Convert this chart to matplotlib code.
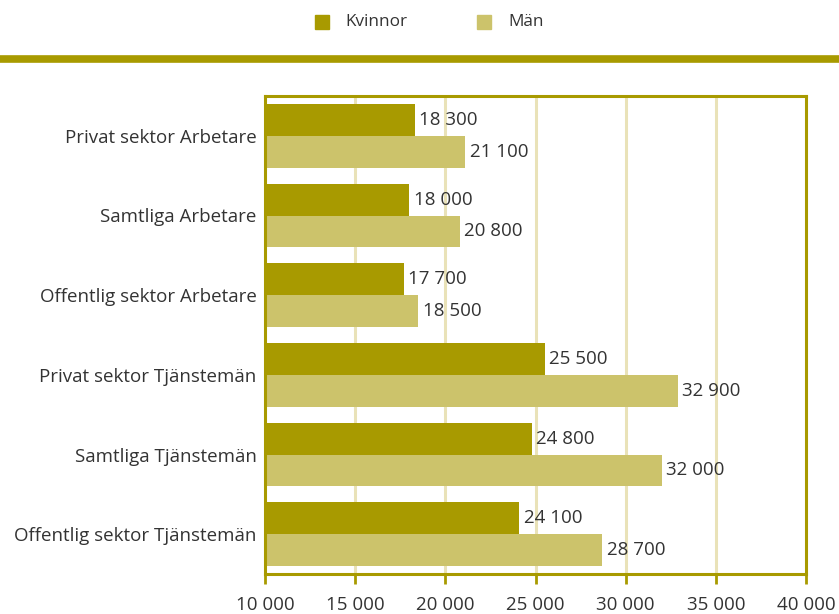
import matplotlib.pyplot as plt
import matplotlib.patches as mpatches
from matplotlib.lines import Line2D
import numpy as np

# Data
categories = ['Privat sektor Arbetare', 'Samtliga Arbetare', 'Offentlig sektor Arbetare',
              'Privat sektor Tjänstemän', 'Samtliga Tjänstemän', 'Offentlig sektor Tjänstemän']
kvinnor = [18300, 18000, 17700, 25500, 24800, 24100]
man = [21100, 20800, 18500, 32900, 32000, 28700]
series_names = ['Kvinnor', 'Män']
xticks = [10000, 15000, 20000, 25000, 30000, 35000, 40000]

dark = '#A89A00'
light = '#CCC36B'
grid_c = '#E9E2B8'
text_c = '#333333'

plt.rcParams['font.family'] = ['Open Sans', 'DejaVu Sans']


def fmt(v):
    return f'{v:,}'.replace(',', ' ')


fig = plt.figure(figsize=(8.39, 6.14), dpi=100)
ax = fig.add_axes([265 / 839, 1 - 574 / 614, (806 - 265) / 839, (574 - 96) / 614])

n = len(categories)
y = np.arange(n)
h = 0.4
ax.barh(y - h / 2, kvinnor, height=h, left=0, color=dark, zorder=2)
ax.barh(y + h / 2, man, height=h, left=0, color=light, zorder=2)

for i in range(n):
    ax.text(kvinnor[i] + 250, y[i] - h / 2, fmt(kvinnor[i]), va='center', ha='left',
            fontsize=13.5, color=text_c)
    ax.text(man[i] + 250, y[i] + h / 2, fmt(man[i]), va='center', ha='left',
            fontsize=13.5, color=text_c)

ax.set_xlim(10000, 40000)
ax.set_ylim(n - 0.5, -0.5)
ax.set_yticks(y)
ax.set_yticklabels(categories, fontsize=13.5, color=text_c)
ax.set_xticks(xticks)
ax.set_xticklabels([fmt(t) for t in xticks], fontsize=13.5, color=text_c)
ax.tick_params(axis='y', length=0, pad=6)
ax.tick_params(axis='x', direction='out', length=7, width=2, color=dark, pad=9)

for t in xticks[1:-1]:
    ax.axvline(t, color=grid_c, lw=2.2, zorder=1)

for s in ax.spines.values():
    s.set_color(dark)
    s.set_linewidth(2.2)

# top band line
fig.add_artist(Line2D([0, 1], [1 - 58.5 / 614] * 2, color=dark, lw=5.5,
                      transform=fig.transFigure))

# legend
fig.add_artist(mpatches.Rectangle((315 / 839, 1 - 29 / 614), 14 / 839, 14 / 614,
                                  color=dark, transform=fig.transFigure))
fig.text(345 / 839, 1 - 22 / 614, series_names[0], va='center', ha='left', fontsize=12.3, color=text_c)
fig.add_artist(mpatches.Rectangle((477 / 839, 1 - 29 / 614), 14 / 839, 14 / 614,
                                  color=light, transform=fig.transFigure))
fig.text(508 / 839, 1 - 22 / 614, series_names[1], va='center', ha='left', fontsize=12.3, color=text_c)

fig.savefig('out.png', dpi=100)
